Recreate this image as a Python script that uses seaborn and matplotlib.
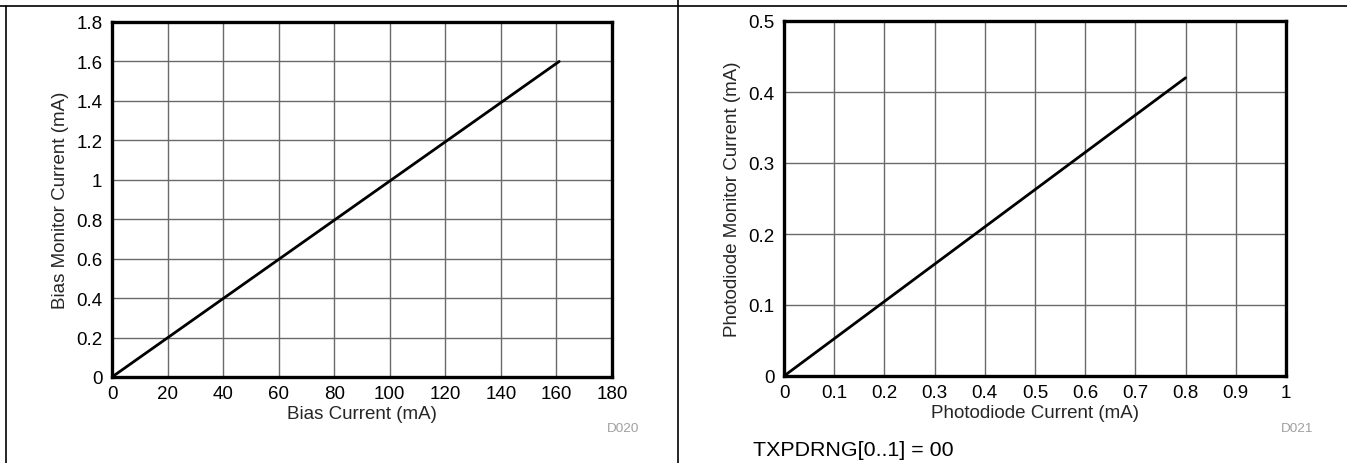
import matplotlib
matplotlib.use("Agg")
import matplotlib.pyplot as plt
import seaborn as sns
import pandas as pd
from matplotlib.lines import Line2D

# Data
bias_current = [0, 161]
bias_monitor = [0, 1.6]
pd_current = [0, 0.8]
pd_monitor = [0, 0.42]

left_xticks = [0, 20, 40, 60, 80, 100, 120, 140, 160, 180]
left_yticks = [0, 0.2, 0.4, 0.6, 0.8, 1.0, 1.2, 1.4, 1.6, 1.8]
left_yticklabels = ["0", "0.2", "0.4", "0.6", "0.8", "1", "1.2", "1.4", "1.6", "1.8"]
right_xticks = [0, 0.1, 0.2, 0.3, 0.4, 0.5, 0.6, 0.7, 0.8, 0.9, 1.0]
right_xticklabels = ["0", "0.1", "0.2", "0.3", "0.4", "0.5", "0.6", "0.7", "0.8", "0.9", "1"]
right_yticks = [0, 0.1, 0.2, 0.3, 0.4, 0.5]
right_yticklabels = ["0", "0.1", "0.2", "0.3", "0.4", "0.5"]

sns.set_style("white")
plt.rcParams['font.family'] = ['Liberation Sans', 'DejaVu Sans']

W, H = 1347, 464
fig = plt.figure(figsize=(W / 100, H / 100), dpi=100)

def ax_rect(x0, x1, ytop, ybot):
    return [x0 / W, 1 - ybot / H, (x1 - x0) / W, (ybot - ytop) / H]

ax1 = fig.add_axes(ax_rect(112, 612, 23, 378))
ax2 = fig.add_axes(ax_rect(784, 1286, 22, 377))

df1 = pd.DataFrame({"x": bias_current, "y": bias_monitor})
df2 = pd.DataFrame({"x": pd_current, "y": pd_monitor})
sns.lineplot(data=df1, x="x", y="y", ax=ax1, color="black", linewidth=2, zorder=5)
sns.lineplot(data=df2, x="x", y="y", ax=ax2, color="black", linewidth=2, zorder=5)

def style(ax, xt, xtl, yt, ytl, xlabel, ylabel):
    ax.set_xlim(xt[0], xt[-1])
    ax.set_ylim(yt[0], yt[-1])
    ax.set_xticks(xt)
    ax.set_xticklabels(xtl)
    ax.set_yticks(yt)
    ax.set_yticklabels(ytl)
    ax.grid(True, color="#6a6a6a", linewidth=1.0)
    ax.set_axisbelow(True)
    for s in ax.spines.values():
        s.set_visible(True)
        s.set_color("black")
        s.set_linewidth(2.4)
    ax.tick_params(axis="x", length=0, pad=6, labelsize=13.5, colors="black")
    ax.tick_params(axis="y", length=0, pad=7, labelsize=13.5, colors="black")
    ax.set_xlabel(xlabel, fontsize=13.5, labelpad=2)
    ax.set_ylabel(ylabel, fontsize=13.5, labelpad=5)

style(ax1, left_xticks, [str(v) for v in left_xticks], left_yticks, left_yticklabels,
      "Bias Current (mA)", "Bias Monitor Current (mA)")
style(ax2, right_xticks, right_xticklabels, right_yticks, right_yticklabels,
      "Photodiode Current (mA)", "Photodiode Monitor Current (mA)")

# Frame lines
fig.add_artist(Line2D([0, 1], [1 - 7 / H, 1 - 7 / H], color="black", linewidth=1.2, transform=fig.transFigure))
fig.add_artist(Line2D([6 / W, 6 / W], [0, 1 - 7 / H], color="black", linewidth=1.2, transform=fig.transFigure))
fig.add_artist(Line2D([678 / W, 678 / W], [0, 1], color="black", linewidth=1.2, transform=fig.transFigure))

fig.text(623 / W, 1 - 429 / H, "D020", color="#a0a0a0", fontsize=9.7, ha="center", va="center")
fig.text(1297 / W, 1 - 429 / H, "D021", color="#a0a0a0", fontsize=9.7, ha="center", va="center")
fig.text(753 / W, 1 - 451 / H, "TXPDRNG[0..1] = 00", color="black", fontsize=15.4, ha="left", va="center")

fig.savefig("out.png", dpi=100)
